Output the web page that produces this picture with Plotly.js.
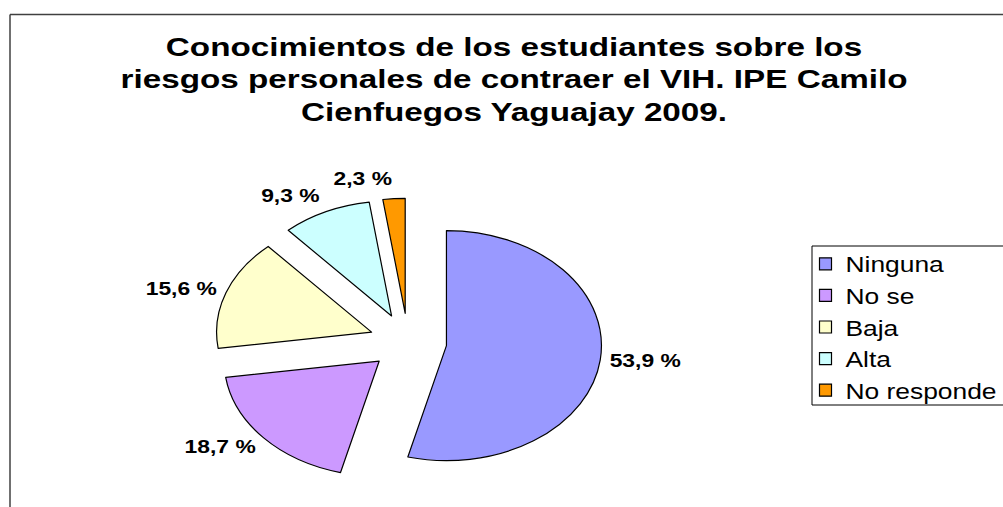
<!DOCTYPE html>
<html>
<head>
<meta charset="utf-8">
<script src="https://cdn.plot.ly/plotly-3.0.1.min.js"></script>
<style>
html,body{margin:0;padding:0;background:#fff;}
#chart{width:1003px;height:507px;}
#chart .textline{display:none;}
#chart .pielayer path{vector-effect:non-scaling-stroke;}
#chart .gtitle{transform-box:fill-box;transform-origin:center;transform:scaleX(1.33);}
#chart .legendtext{transform-box:fill-box;transform-origin:left center;transform:scaleX(1.2);}
#chart .legend .scrollbox{clip-path:none !important;}
</style>
</head>
<body>
<div id="chart"></div>
<script>
const categories = ["Ninguna", "No se", "Baja", "Alta", "No responde"];
const values = [53.9, 18.7, 15.6, 9.3, 2.3];
const colors = ["#9999FF", "#CC99FF", "#FFFFCC", "#CCFFFF", "#FF9900"];
const titleText = "Conocimientos de los estudiantes sobre los<br>riesgos personales de contraer el VIH. IPE Camilo<br>Cienfuegos Yaguajay 2009.";

const W = 1003, H = 507;
// pie drawn as a circle, then flattened (like the reference's tilted pie)
const cx = 408, cyFinal = 342, r = 155, pull = 0.25, flat = 0.742;
const labelStretch = 1.27, labelGap = 12;
const half = r * (1 + pull);
const cy0 = H / 2;
const ty = cyFinal - flat * cy0;

const css = document.createElement("style");
css.textContent =
  "#chart .pielayer{transform-box:view-box;transform-origin:0 0;transform:translate(0px," + ty + "px) scale(1," + flat + ");}";
document.head.appendChild(css);

const trace = {
  type: "pie",
  labels: categories,
  values: values,
  sort: false,
  direction: "clockwise",
  rotation: 0,
  pull: categories.map(() => pull),
  marker: { colors: colors, line: { color: "#000000", width: 1.2 } },
  textposition: "outside",
  texttemplate: "%{value:.1f} %",
  textfont: { family: "Liberation Sans, Arial, sans-serif", size: 18, color: "#000", weight: "bold" },
  hoverinfo: "label+percent",
  domain: {
    x: [(cx - half) / W, (cx + half) / W],
    y: [(H - (cy0 + half)) / H, (H - (cy0 - half)) / H]
  }
};

const layout = {
  width: W, height: H,
  margin: { l: 0, r: 0, t: 0, b: 0 },
  separators: ",.",
  paper_bgcolor: "#ffffff",
  font: { family: "Liberation Sans, Arial, sans-serif", color: "#000" },
  title: {
    text: titleText,
    x: 514 / W, xanchor: "center",
    y: 1 - 56 / H, yanchor: "top", yref: "container",
    font: { family: "Liberation Sans, Arial, sans-serif", size: 25, color: "#000", weight: "bold" }
  },
  showlegend: true,
  legend: {
    x: 805.5 / W, xanchor: "left",
    y: 1 - 243 / H, yanchor: "top",
    borderwidth: 0,
    bgcolor: "rgba(0,0,0,0)",
    font: { family: "Liberation Sans, Arial, sans-serif", size: 22, color: "#000" },
    tracegroupgap: 0
  },
  shapes: [
    { type: "line", xref: "paper", yref: "paper", x0: 10 / W, x1: 1, y0: 1 - 14.5 / H, y1: 1 - 14.5 / H, line: { color: "#404040", width: 1.5 } },
    { type: "line", xref: "paper", yref: "paper", x0: 10 / W, x1: 10 / W, y0: 0, y1: 1 - 14.5 / H, line: { color: "#404040", width: 1.5 } },
    { type: "rect", xref: "paper", yref: "paper", x0: 812 / W, x1: 1012 / W, y0: 1 - 405 / H, y1: 1 - 246 / H, line: { color: "#000000", width: 1 }, fillcolor: "rgba(0,0,0,0)" }
  ]
};

Plotly.newPlot("chart", [trace], layout, { displayModeBar: false, staticPlot: true }).then(function (gd) {
  const host = gd.getBoundingClientRect();
  // undo the vertical flattening for the percentage labels, widen them, and give them a little air
  gd.querySelectorAll(".pielayer g.slicetext").forEach(function (g) {
    const el = g.querySelector("text");
    if (!el) return;
    const rc = el.getBoundingClientRect();
    const sx = rc.left + rc.width / 2 - host.left, sy = rc.top + rc.height / 2 - host.top;
    let vx = sx - cx, vy = sy - cyFinal;
    const n = Math.hypot(vx, vy) || 1;
    const dx = labelGap * vx / n, dy = labelGap * vy / n / flat;
    const bb = el.getBBox();
    const c = [bb.x + bb.width / 2, bb.y + bb.height / 2];
    const t = el.getAttribute("transform") || "";
    el.setAttribute("transform", t + " translate(" + dx + "," + dy + ") translate(" + c[0] + "," + c[1] + ") scale(" + labelStretch + "," + (1 / flat) + ") translate(" + (-c[0]) + "," + (-c[1]) + ")");
  });
});
</script>
</body>
</html>
